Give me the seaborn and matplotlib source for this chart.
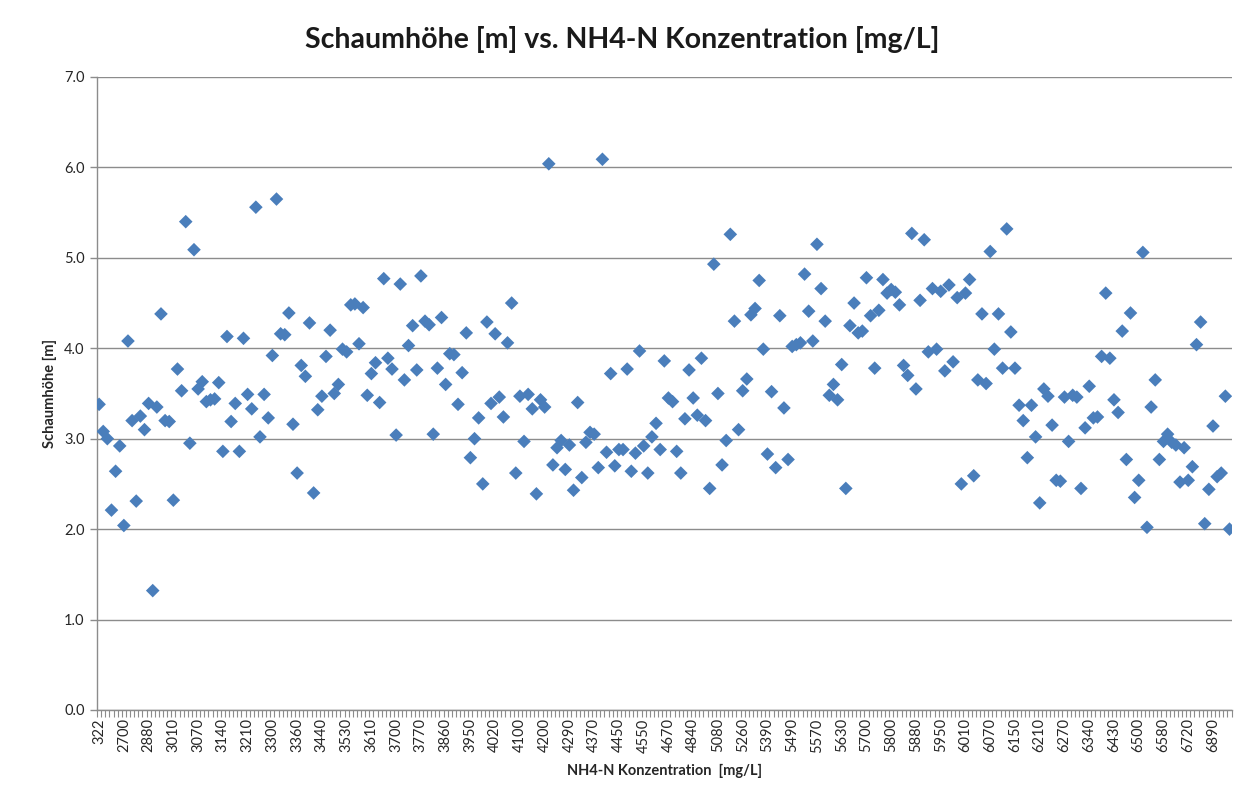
import numpy as np
import pandas as pd
import matplotlib
matplotlib.use("Agg")
import matplotlib.pyplot as plt
import seaborn as sns

tick_labels = ["322", "2700", "2880", "3010", "3070", "3140", "3210", "3300", "3360", "3440",
               "3530", "3610", "3700", "3770", "3860", "3950", "4020", "4100", "4200", "4290",
               "4370", "4450", "4550", "4670", "4840", "5080", "5260", "5390", "5490", "5570",
               "5630", "5700", "5800", "5880", "5950", "6010", "6070", "6150", "6210", "6270",
               "6340", "6430", "6500", "6580", "6720", "6890"]

schaum_a = [3.38, 3.08, 3.00, 2.21, 2.64, 2.92, 2.04, 4.08, 3.20, 2.31, 3.25, 3.10, 3.39, 1.32,
            3.35, 4.38, 3.20, 3.19, 2.32, 3.77, 3.53, 5.40, 2.95, 5.09, 3.55, 3.63, 3.41]
schaum_b = [3.43, 3.44, 3.62, 2.86, 4.13, 3.19, 3.39, 2.86, 4.11, 3.49, 3.33, 5.56, 3.02, 3.49,
            3.23, 3.92, 5.65, 4.16, 4.15, 4.39, 3.16, 2.62, 3.81, 3.69, 4.28, 2.40, 3.32, 3.47, 3.91]
schaum_c = [4.20, 3.50, 3.60, 3.99, 3.96, 4.48, 4.49, 4.05, 4.45, 3.48, 3.72, 3.84, 3.40, 4.77,
            3.89, 3.77, 3.04, 4.71, 3.65, 4.03, 4.25, 3.76, 4.80, 4.30, 4.26, 3.05, 3.78]
schaum_d = [4.34, 3.60, 3.94, 3.93, 3.38, 3.73, 4.17, 2.79, 3.00, 3.23, 2.50, 4.29, 3.39, 4.16,
            3.46, 3.24, 4.06, 4.50, 2.62, 3.47, 2.97, 3.49, 3.33, 2.39, 3.43, 3.35, 6.04, 2.71]
schaum_e = [2.90, 2.98, 2.66, 2.93, 2.43, 3.40, 2.57, 2.96, 3.07, 3.05, 2.68, 6.09, 2.85, 3.72,
            2.70, 2.88, 2.88, 3.77, 2.64, 2.84, 3.97, 2.92, 2.62, 3.02, 3.17, 2.88, 3.86]
schaum_f = [3.45, 3.41, 2.86, 2.62, 3.22, 3.76, 3.45, 3.26, 3.89, 3.20,
            2.45, 4.93, 3.50, 2.71, 2.98, 5.26, 4.30, 3.10, 3.53, 3.66,
            4.37, 4.44, 4.75, 3.99, 2.83, 3.52, 2.68, 4.36, 3.34, 2.77,
            4.02, 4.04, 4.06, 4.82, 4.41, 4.08, 5.15, 4.66, 4.30, 3.48,
            3.60, 3.43, 3.82, 2.45, 4.25, 4.50, 4.17, 4.19, 4.78, 4.36,
            3.78, 4.42, 4.76, 4.61, 4.65, 4.62, 4.48, 3.81, 3.70, 5.27,
            3.55, 4.53, 5.20, 3.96, 4.66, 3.99, 4.63, 3.75, 4.70, 3.85,
            4.56, 2.50, 4.61, 4.76, 2.59, 3.65, 4.38, 3.61, 5.07, 3.99,
            4.38, 3.78, 5.32, 4.18, 3.78, 3.37, 3.20, 2.79, 3.37, 3.02,
            2.29, 3.55, 3.47, 3.15, 2.54, 2.53, 3.46, 2.97, 3.48, 3.46,
            2.45, 3.12, 3.58, 3.23, 3.24, 3.91, 4.61, 3.89, 3.43, 3.29,
            4.19, 2.77, 4.39, 2.35, 2.54, 5.06, 2.02, 3.35, 3.65, 2.77,
            2.97, 3.05, 2.96, 2.93, 2.52, 2.90, 2.54, 2.69, 4.04, 4.29,
            2.06, 2.44, 3.14, 2.58, 2.62, 3.47, 2.00]

schaum = schaum_a + schaum_b + schaum_c + schaum_d + schaum_e + schaum_f
n = len(schaum)
df = pd.DataFrame({"kat": np.arange(n), "schaum": schaum})

sns.set_theme(style="white")
plt.rcParams['font.family'] = ['Lato', 'DejaVu Sans']

fig = plt.figure(figsize=(12.44, 7.97), dpi=100)
ax = fig.add_axes([0.078, 0.1092, 0.912, 0.7942])

grid_c = "#8c8c8c"
sns.scatterplot(data=df, x="kat", y="schaum", marker="D", s=48, color="#4A7EBB",
                edgecolor="none", linewidth=0, ax=ax, zorder=3)

ax.set_xlim(-0.5, n - 0.5)
ax.set_ylim(0, 7)
ax.set_yticks(np.arange(0, 7.01, 1.0))
ax.set_yticklabels([f"{v:.1f}" for v in np.arange(0, 7.01, 1.0)], fontsize=10.5, color="#262626")
ax.yaxis.grid(True, color=grid_c, linewidth=1.0)
ax.set_axisbelow(True)

major_pos = np.arange(0, 6 * len(tick_labels), 6)
ax.set_xticks(major_pos)
ax.set_xticklabels(tick_labels, rotation=90, fontsize=10.5, color="#262626")
ax.set_xticks(np.arange(-0.5, n, 1.0), minor=True)
ax.tick_params(axis="x", which="major", length=0, pad=6)
ax.tick_params(axis="x", which="minor", length=5, width=0.8, color=grid_c, direction="out", bottom=True)
ax.tick_params(axis="y", which="major", length=5, width=1.0, color=grid_c, direction="out", left=True, pad=4)

for side in ["top", "right"]:
    ax.spines[side].set_visible(False)
for side in ["left", "bottom"]:
    ax.spines[side].set_color(grid_c)
    ax.spines[side].set_linewidth(1.0)

ax.set_xlabel("NH4-N Konzentration  [mg/L]", fontsize=10.5, fontweight="bold", color="#262626", labelpad=8)
ax.set_ylabel("Schaumhöhe [m]", fontsize=10.5, fontweight="bold", color="#262626", labelpad=5)
fig.suptitle("Schaumhöhe [m] vs. NH4-N Konzentration [mg/L]", fontsize=20.5, fontweight="bold",
             color="#1a1a1a", y=0.967)

fig.savefig("out.png", dpi=100)
